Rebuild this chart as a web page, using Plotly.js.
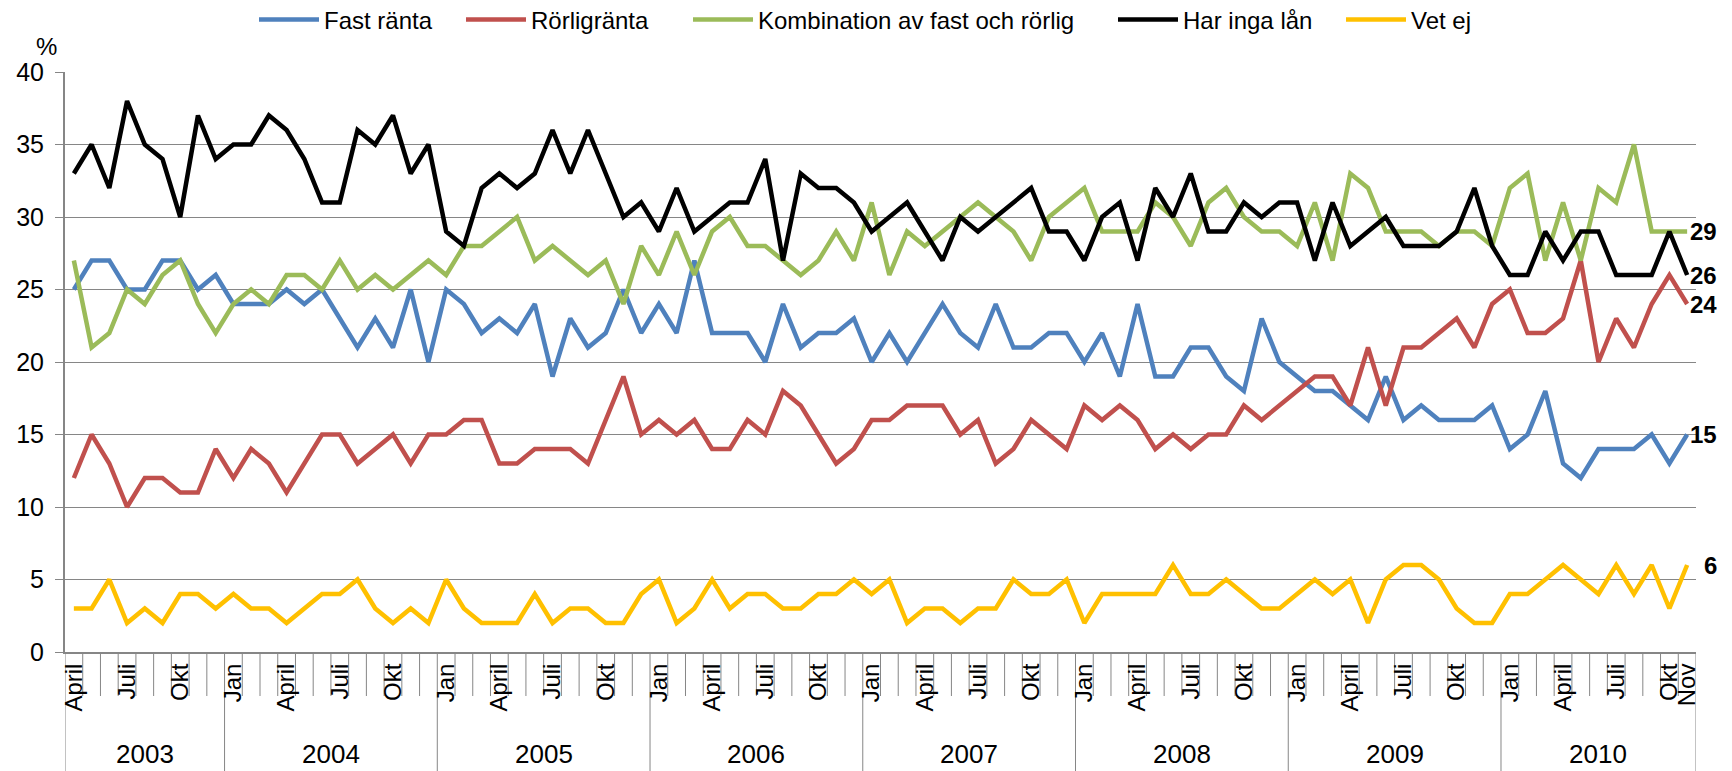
<!DOCTYPE html>
<html><head><meta charset="utf-8">
<script src="https://cdn.plot.ly/plotly-3.0.1.min.js"></script>
<style>html,body{margin:0;padding:0;background:#fff}#chart{width:1732px;height:771px}</style>
</head><body><div id="chart"></div>
<script>
// ---- data ----
const years = [2003, 2004, 2005, 2006, 2007, 2008, 2009, 2010];
const firstMonthIdx = 3;   // April 2003
const lastMonthIdx = 10;   // Nov 2010
const monthNames = ['Jan','Feb','Mars','April','Maj','Juni','Juli','Aug','Sep','Okt','Nov','Dec'];
const labeledMonths = ['Jan','April','Juli','Okt'];

const fastRanta = [25,27,27,25,25,27,27,25,26,24,24,24,25, 24,25,23,21,23,21,25,20,25,24,22,23,22,24,19,23, 21,22,25,22,24,22,27,22,22,22,20,24,21,22,22,23, 20,22,20,22,24,22,21,24,21,21,22,22,20,22,19,24, 19,19,21,21,19,18,23,20,19,18,18,17,16,19,16,17, 16,16,16,17,14,15,18,13,12,14,14,14,15,13,15];
const rorligRanta = [12,15,13,10,12,12,11,11,14,12,14,13,11, 13,15,15,13,14,15,13,15,15,16,16,13,13,14,14,14, 13,16,19,15,16,15,16,14,14,16,15,18,17,15,13,14, 16,16,17,17,17,15,16,13,14,16,15,14,17,16,17,16, 14,15,14,15,15,17,16,17,18,19,19,17,21,17,21,21, 22,23,21,24,25,22,22,23,27,20,23,21,24,26,24];
const kombination = [27,21,22,25,24,26,27,24,22,24,25,24,26, 26,25,27,25,26,25,26,27,26,28,28,29,30,27,28,27, 26,27,24,28,26,29,26,29,30,28,28,27,26,27,29,27, 31,26,29,28,29,30,31,30,29,27,30,31,32,29,29,29, 31,30,28,31,32,30,29,29,28,31,27,33,32,29,29,29, 28,29,29,28,32,33,27,31,27,32,31,35,29,29,29];
const harIngaLan = [33,35,32,38,35,34,30,37,34,35,35,37,36, 34,31,31,36,35,37,33,35,29,28,32,33,32,33,36,33, 36,33,30,31,29,32,29,30,31,31,34,27,33,32,32,31, 29,30,31,29,27,30,29,30,31,32,29,29,27,30,31,27, 32,30,33,29,29,31,30,31,31,27,31,28,29,30,28,28, 28,29,32,28,26,26,29,27,29,29,26,26,26,29,26];
const vetEj = [3,3,5,2,3,2,4,4,3,4,3,3,2, 3,4,4,5,3,2,3,2,5,3,2,2,2,4,2,3, 3,2,2,4,5,2,3,5,3,4,4,3,3,4,4,5, 4,5,2,3,3,2,3,3,5,4,4,5,2,4,4,4, 4,6,4,4,5,4,3,3,4,5,4,5,2,5,6,6, 5,3,2,2,4,4,5,6,5,4,6,4,6,3,6];

const seriesNames = ['Fast ränta','Rörligränta','Kombination av fast och rörlig','Har inga lån','Vet ej'];
const seriesValues = [fastRanta, rorligRanta, kombination, harIngaLan, vetEj];
const seriesColors = ['#4F81BD','#C0504D','#9BBB59','#000000','#FFC000'];

// ---- categories ----
const cats = [], tickVals = [], tickText = [], yearStart = [], yearCount = [];
years.forEach((y, yi) => {
  const m0 = yi === 0 ? firstMonthIdx : 0;
  const m1 = yi === years.length - 1 ? lastMonthIdx : 11;
  yearStart.push(cats.length);
  yearCount.push(m1 - m0 + 1);
  for (let m = m0; m <= m1; m++) {
    const c = monthNames[m] + ' ' + y;
    cats.push(c);
    const isLast = (yi === years.length - 1 && m === m1);
    if (labeledMonths.includes(monthNames[m]) || isLast) {
      tickVals.push(c); tickText.push(monthNames[m]);
    }
  }
});

const sans = 'Liberation Sans, Arial, sans-serif';
const gridCol = '#868686';
const W = 1732, H = 771;
const M = {l:65, r:36, t:72, b:119};
const plotW = W - M.l - M.r, plotH = H - M.t - M.b;

const legendIds = ['legend','legend2','legend3','legend4','legend5'];
const traces = seriesNames.map((n, i) => ({
  type: 'scatter', mode: 'lines', name: n, x: cats, y: seriesValues[i], legend: legendIds[i],
  line: {color: seriesColors[i], width: 4.5}, hoverinfo: 'x+y+name'
}));

const shapes = [];
const annotations = [];
// category boundary tick marks
const isYearEdge = new Set(yearStart.concat([cats.length]));
for (let b = 0; b <= cats.length; b++) {
  const len = isYearEdge.has(b) ? 119 : 44;
  shapes.push({type:'line', xref:'x', yref:'paper', x0:b-0.5, x1:b-0.5, y0:0, y1:-len/plotH,
    line:{color:gridCol, width:1}, layer:'below'});
}
yearStart.forEach((s, i) => {
  annotations.push({xref:'x', yref:'paper', x:s + (yearCount[i]-1)/2, y:-102/plotH,
    text:String(years[i]), showarrow:false, font:{family:sans, size:26, color:'#000'},
    xanchor:'center', yanchor:'middle'});
});
seriesValues.forEach((v, i) => {
  annotations.push({xref:'x', yref:'y', x:cats.length-1, y:v[v.length-1], text:'<b>'+v[v.length-1]+'</b>',
    showarrow:false, xanchor:'right', yanchor:'middle', xshift:32, font:{family:sans, size:24, color:'#000'}});
});
annotations.push({xref:'paper', yref:'paper', x:-19/plotW, y:(H - M.b - 46)/plotH, text:'%', showarrow:false,
  xanchor:'center', yanchor:'middle', font:{family:sans, size:24, color:'#000'}});

const legendLineStart = [261, 468, 695, 1120, 1348];
const layout = {
  width: W, height: H, margin: M,
  paper_bgcolor:'#fff', plot_bgcolor:'#fff',
  showlegend: true,
  xaxis: {type:'category', categoryorder:'array', categoryarray:cats, range:[-0.5, cats.length-0.5],
    tickmode:'array', tickvals:tickVals, ticktext:tickText, tickangle:-90, ticks:'',
    showline:true, linecolor:gridCol, linewidth:2, showgrid:false, zeroline:false,
    tickfont:{family:sans, size:24, color:'#000'}},
  yaxis: {range:[0,40], dtick:5, tick0:0, showgrid:true, gridcolor:gridCol, gridwidth:1.3,
    showline:true, linecolor:gridCol, linewidth:2, ticks:'outside', ticklen:8, tickcolor:gridCol,
    ticklabelstandoff:6, zeroline:false, tickfont:{family:sans, size:25, color:'#000'}},
  shapes: shapes, annotations: annotations
};
legendIds.forEach((id, i) => {
  layout[id] = {orientation:'h', xref:'paper', x:(legendLineStart[i] - 7 - M.l)/plotW, xanchor:'left',
    yref:'container', y:1 - 20/H, yanchor:'middle', itemwidth:60,
    font:{family:sans, size:24, color:'#000'}, bgcolor:'rgba(0,0,0,0)'};
});

Plotly.newPlot('chart', traces, layout, {displayModeBar:false, responsive:false});
</script>
</body></html>
